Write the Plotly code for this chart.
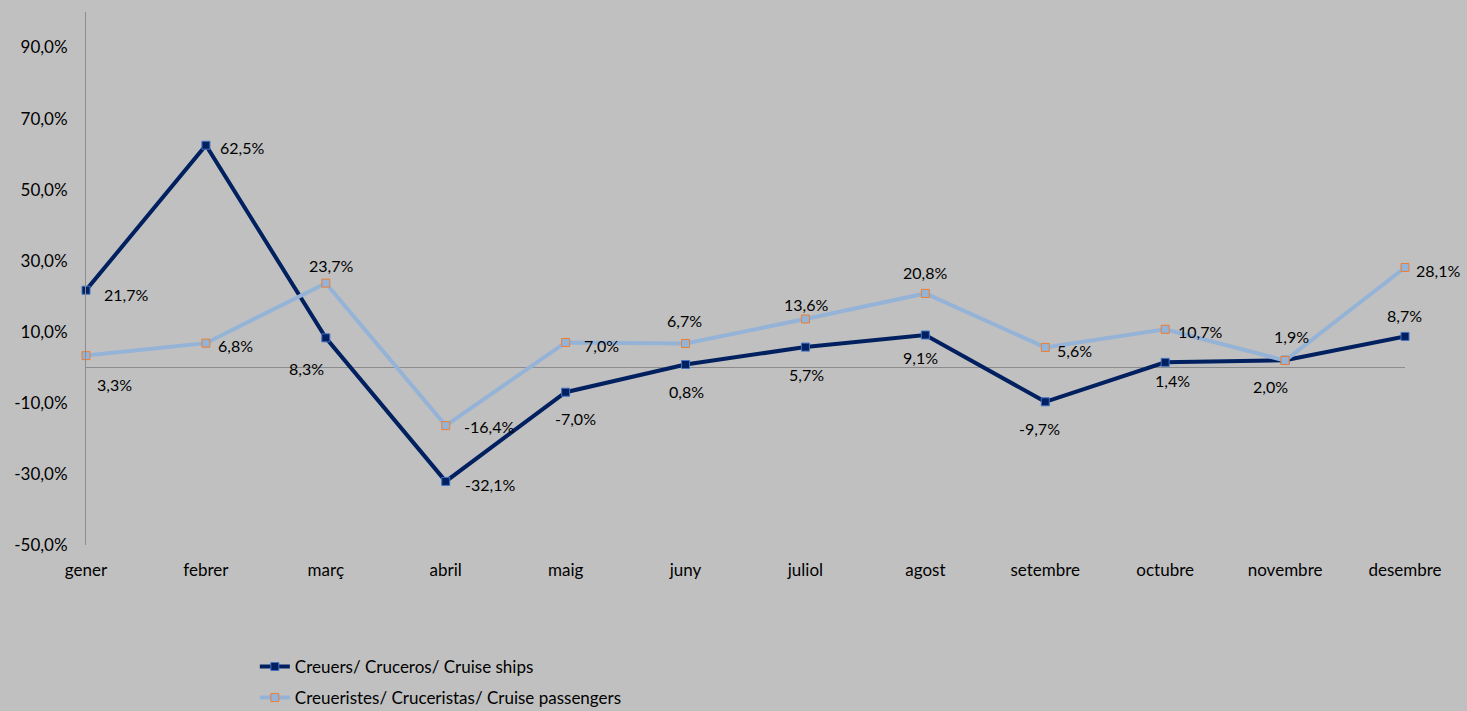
import plotly.graph_objects as go

mesos = ["gener", "febrer", "març", "abril", "maig", "juny",
         "juliol", "agost", "setembre", "octubre", "novembre", "desembre"]
creuers = [21.7, 62.5, 8.3, -32.1, -7.0, 0.8, 5.7, 9.1, -9.7, 1.4, 2.0, 8.7]
creueristes = [3.3, 6.8, 23.7, -16.4, 7.0, 6.7, 13.6, 20.8, 5.6, 10.7, 1.9, 28.1]
y_ticks = [-50, -30, -10, 10, 30, 50, 70, 90]

# desplaçament de les etiquetes (px) respecte al punt
off_creuers = [(40, -4), (36, -2), (-19, -31), (44, -3), (10, -26), (1, -27),
               (1, -27), (-5, -22), (-6, -27), (7, -18), (-15, -26), (-1, 21)]
off_creueristes = [(28, -29), (30, -2), (5, 18), (43, -1), (36, -3), (-1, 23),
                   (1, 15), (0, 21), (29, -3), (35, -2), (6, 24), (33, -3)]

FONT = "Lato, Noto Sans, sans-serif"
BG = "#c0c0c0"


def pct(v):
    return f"{v:.1f}%".replace(".", ",")


fig = go.Figure()

fig.add_trace(go.Scatter(
    x=mesos, y=creuers, mode="lines+markers", name="Creuers/ Cruceros/ Cruise ships",
    line=dict(color="#002060", width=4),
    marker=dict(symbol="square", size=8, color="#002060", line=dict(color="#4472c4", width=1)),
    legendgroup="a", cliponaxis=False,
))
fig.add_trace(go.Scatter(
    x=mesos, y=creueristes, mode="lines+markers", name="Creueristes/ Cruceristas/ Cruise passengers",
    line=dict(color="#95b3d7", width=4),
    marker=dict(symbol="square", size=8, color="#95b3d7", line=dict(color="#ed7d31", width=1)),
    legendgroup="b", cliponaxis=False,
))

for serie, offs in ((creuers, off_creuers), (creueristes, off_creueristes)):
    for m, v, (dx, dy) in zip(mesos, serie, offs):
        fig.add_annotation(x=m, y=v, text=pct(v), showarrow=False,
                           xshift=dx, yshift=dy, font=dict(family=FONT, size=16, color="#000"))

fig.update_xaxes(
    range=[0, 11], showgrid=False, showline=False, zeroline=False,
    ticks="outside", ticklen=10, tickcolor=BG,
    tickfont=dict(family=FONT, size=17, color="#000"),
)
fig.update_yaxes(
    range=[-50, 100], tickvals=y_ticks, ticktext=[pct(v) for v in y_ticks],
    showgrid=False, showline=True, linecolor="#8c8c8c", linewidth=1,
    zeroline=True, zerolinecolor="#8c8c8c", zerolinewidth=1,
    ticks="outside", ticklen=14, tickcolor=BG,
    tickfont=dict(family=FONT, size=17, color="#000"),
)

fig.update_layout(
    width=1467, height=711,
    paper_bgcolor=BG, plot_bgcolor=BG,
    margin=dict(l=86, r=62, t=12, b=166, autoexpand=False),
    font=dict(family=FONT, size=17, color="#000"),
    legend=dict(orientation="v", x=0.128, y=-0.195, xanchor="left", yanchor="top",
                tracegroupgap=6, bgcolor="rgba(0,0,0,0)", font=dict(size=17)),
)

fig.write_html("out.html", config={"displayModeBar": False},
               post_script="document.body.style.margin='0';document.body.style.overflow='hidden';")
